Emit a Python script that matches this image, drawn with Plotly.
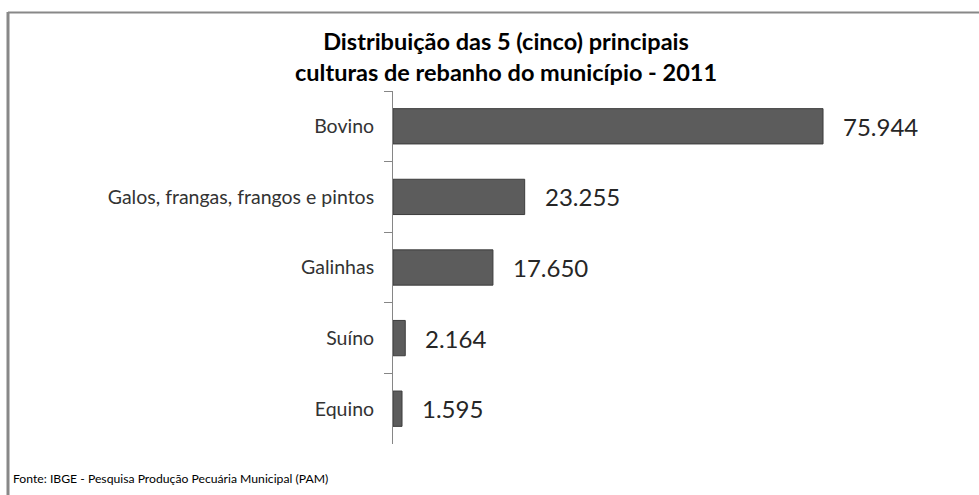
import plotly.graph_objects as go

categories = ["Bovino", "Galos, frangas, frangos e pintos", "Galinhas", "Suíno", "Equino"]
values = [75944, 23255, 17650, 2164, 1595]
title_lines = ["Distribuição das 5 (cinco) principais", "culturas de rebanho do município - 2011"]
source_text = "Fonte: IBGE - Pesquisa Produção Pecuária Municipal (PAM)"

W, H = 979, 495
FONT = "Lato, 'Noto Sans', sans-serif"

fig = go.Figure()
fig.add_trace(go.Bar(
    x=values,
    y=categories,
    orientation="h",
    marker=dict(color="#5c5c5c", line=dict(color="#3c3c3c", width=1)),
    hoverinfo="x+y",
))

annotations = []
for c, v in zip(categories, values):
    annotations.append(dict(
        x=v, y=c, xref="x", yref="y",
        text=f"{v:,}".replace(",", "."),
        showarrow=False, xanchor="left", yanchor="middle", xshift=18,
        font=dict(family=FONT, size=24, color="#262626"),
    ))

annotations.append(dict(
    x=506 / W, y=(H - 57) / H, xref="paper", yref="paper",
    text="<br>".join(title_lines), showarrow=False,
    xanchor="center", yanchor="middle", align="center",
    font=dict(family=FONT, size=23.5, color="#000000", weight="bold"),
))
annotations.append(dict(
    x=11 / W, y=(H - 478) / H, xref="paper", yref="paper",
    text=source_text, showarrow=False,
    xanchor="left", yanchor="middle",
    font=dict(family=FONT, size=12.2, color="#000000"),
))

shapes = [
    dict(type="line", xref="paper", yref="paper", x0=8 / W, x1=1.1, y0=(H - 12.5) / H, y1=(H - 12.5) / H,
         line=dict(color="#888888", width=2)),
    dict(type="line", xref="paper", yref="paper", x0=8 / W, x1=8 / W, y0=(H - 12) / H, y1=-0.1,
         line=dict(color="#888888", width=3)),
]

fig.update_layout(
    width=W, height=H,
    margin=dict(l=0, r=0, t=0, b=0),
    paper_bgcolor="white", plot_bgcolor="white",
    showlegend=False,
    bargap=0.5,
    separators=",.",
    font=dict(family=FONT),
    annotations=annotations,
    shapes=shapes,
    xaxis=dict(
        domain=[393 / W, 846 / W], range=[0, 80000],
        showgrid=False, zeroline=False, showline=False,
        showticklabels=False, ticks="",
    ),
    yaxis=dict(
        domain=[(H - 444) / H, (H - 91) / H],
        autorange="reversed",
        showgrid=False, zeroline=False,
        showline=True, linecolor="#868686", linewidth=1,
        ticks="outside", tickson="boundaries", ticklen=8, tickcolor="#868686",
        tickfont=dict(family=FONT, size=19.5, color="#333333"),
        ticklabelstandoff=14,
    ),
)

fig.write_html(
    "out.html",
    config={"displayModeBar": False},
    post_script="document.body.style.margin='0';document.body.style.overflow='hidden';",
)
